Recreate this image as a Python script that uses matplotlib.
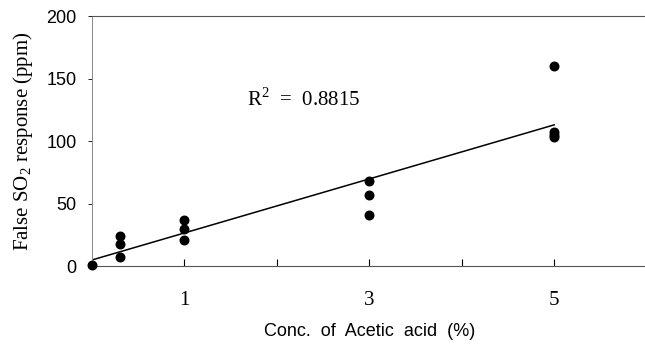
import matplotlib.pyplot as plt
import numpy as np

plt.rcParams['mathtext.fontset'] = 'custom'
plt.rcParams['mathtext.rm'] = 'Liberation Serif'

# data
conc = [0, 0.3, 0.3, 0.3, 1, 1, 1, 3, 3, 3, 5, 5, 5, 5]
so2 = [1, 24, 18, 7, 37, 30, 21, 68, 57, 41, 160, 107, 105, 103]
xticks = [1, 2, 3, 4, 5]
xticklabels = ['1', '', '3', '', '5']
yticks = [0, 50, 100, 150, 200]

# linear fit
slope, intercept = np.polyfit(conc, so2, 1)
xfit = np.array([0, 5])
yfit = slope * xfit + intercept

fig = plt.figure(figsize=(6.45, 3.49), dpi=100)
ax = fig.add_axes([0.1426, 0.2378, 0.86, 0.7162])

ax.plot(xfit, yfit, color='black', lw=1.1)
ax.scatter(conc, so2, s=38, color='black', zorder=3, clip_on=False)

ax.set_xlim(0, 6)
ax.set_ylim(0, 200)
ax.set_xticks(xticks)
ax.set_xticklabels(xticklabels, fontfamily='Liberation Serif', fontsize=15)
ax.set_yticks(yticks)
ax.set_yticklabels([str(v) for v in yticks], fontfamily='Liberation Sans', fontsize=13)
ax.tick_params(axis='x', direction='in', length=5, width=0.8, pad=18)
ax.tick_params(axis='y', direction='out', length=3, width=0.6, pad=8)

ax.spines['right'].set_visible(False)
ax.spines['top'].set_color('#555555')
ax.spines['top'].set_linewidth(0.8)
ax.spines['left'].set_color('#888888')
ax.spines['left'].set_linewidth(0.7)
ax.spines['bottom'].set_color('#555555')
ax.spines['bottom'].set_linewidth(0.8)

ax.set_xlabel('Conc.  of  Acetic  acid  (%)', fontfamily='Liberation Sans', fontsize=13, labelpad=9)
ax.set_ylabel('False SO$_2$ response (ppm)', fontfamily='Liberation Serif', fontsize=15, labelpad=8)

ax.text(1.68, 133, 'R$^2$  =  0.8815', fontfamily='Liberation Serif', fontsize=15, va='center')

fig.savefig('out.png', dpi=100)
